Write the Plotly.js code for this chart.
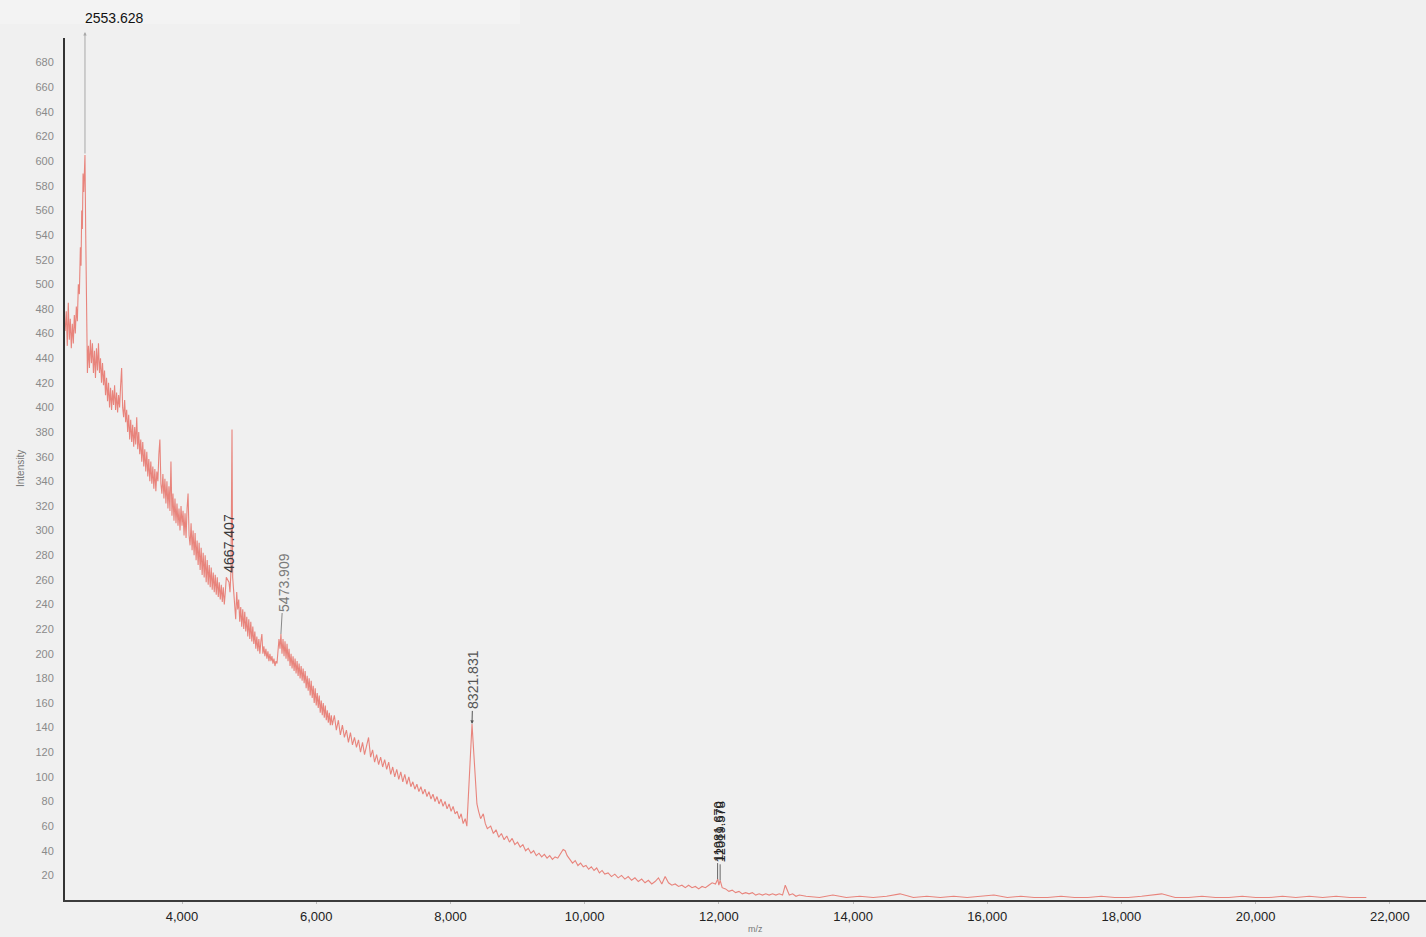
<!DOCTYPE html>
<html>
<head>
<meta charset="utf-8">
<script src="https://cdn.plot.ly/plotly-3.0.1.min.js"></script>
<style>
  html, body { margin: 0; padding: 0; background: #f0f0f0; }
  #chart { width: 1426px; height: 937px; }
</style>
</head>
<body>
<div id="chart"></div>
<script>
// m/z values
const mz = [
  2258, 2275, 2290, 2305, 2320, 2335, 2350, 2365, 2380, 2395,
  2410, 2425, 2440, 2455, 2470, 2485, 2495, 2505, 2515, 2525,
  2535, 2545, 2553.628, 2565, 2575, 2590, 2605, 2620, 2635, 2650,
  2665, 2680, 2695, 2710, 2725, 2740, 2755, 2770, 2785, 2800,
  2815, 2830, 2845, 2860, 2875, 2890, 2905, 2920, 2935, 2950,
  2965, 2980, 2995, 3010, 3025, 3040, 3055, 3070, 3085, 3100,
  3115, 3130, 3145, 3160, 3175, 3190, 3205, 3220, 3235, 3250,
  3265, 3280, 3295, 3310, 3325, 3340, 3355, 3370, 3385, 3400,
  3415, 3430, 3445, 3460, 3475, 3490, 3505, 3520, 3535, 3550,
  3565, 3580, 3595, 3610, 3625, 3640, 3655, 3670, 3685, 3700,
  3715, 3730, 3745, 3760, 3775, 3790, 3805, 3820, 3835, 3850,
  3865, 3880, 3895, 3910, 3925, 3940, 3955, 3970, 3985, 4000,
  4015, 4030, 4045, 4060, 4075, 4090, 4105, 4120, 4135, 4150,
  4165, 4180, 4195, 4210, 4225, 4240, 4255, 4270, 4285, 4300,
  4315, 4330, 4345, 4360, 4375, 4390, 4405, 4420, 4435, 4450,
  4465, 4480, 4495, 4510, 4525, 4540, 4555, 4570, 4585, 4600,
  4615, 4630, 4645, 4660, 4700, 4715, 4730, 4745, 4755, 4770,
  4785, 4800, 4815, 4830, 4845, 4860, 4875, 4890, 4905, 4920,
  4935, 4950, 4965, 4980, 4995, 5010, 5025, 5040, 5055, 5070,
  5085, 5100, 5115, 5130, 5145, 5160, 5175, 5190, 5205, 5220,
  5235, 5250, 5265, 5280, 5295, 5310, 5325, 5340, 5355, 5370,
  5385, 5400, 5415, 5430, 5445, 5460, 5473.909, 5490, 5505, 5520,
  5535, 5550, 5565, 5580, 5595, 5610, 5625, 5640, 5655, 5670,
  5685, 5700, 5715, 5730, 5745, 5760, 5775, 5790, 5805, 5820,
  5835, 5850, 5865, 5880, 5895, 5910, 5925, 5940, 5955, 5970,
  5985, 6000, 6015, 6030, 6045, 6060, 6075, 6090, 6105, 6120,
  6135, 6150, 6165, 6180, 6195, 6210, 6225, 6240, 6270, 6300,
  6330, 6360, 6390, 6420, 6450, 6480, 6510, 6540, 6570, 6600,
  6630, 6660, 6690, 6720, 6750, 6780, 6810, 6840, 6870, 6900,
  6930, 6960, 6990, 7020, 7050, 7080, 7110, 7140, 7170, 7200,
  7230, 7260, 7290, 7320, 7350, 7380, 7410, 7440, 7470, 7500,
  7530, 7560, 7590, 7620, 7650, 7680, 7710, 7740, 7770, 7800,
  7830, 7860, 7890, 7920, 7950, 7980, 8010, 8040, 8070, 8100,
  8130, 8160, 8190, 8220, 8245, 8270, 8295, 8321.831, 8345, 8370,
  8395, 8420, 8450, 8490, 8520, 8550, 8600, 8640, 8680, 8720,
  8760, 8800, 8840, 8880, 8920, 8960, 9000, 9040, 9080, 9120,
  9160, 9200, 9240, 9280, 9320, 9360, 9400, 9440, 9480, 9520,
  9560, 9600, 9640, 9680, 9710, 9740, 9780, 9820, 9860, 9900,
  9940, 9980, 10020, 10060, 10100, 10140, 10180, 10220, 10260, 10300,
  10350, 10400, 10450, 10500, 10550, 10600, 10650, 10700, 10750, 10800,
  10850, 10900, 10950, 11000, 11050, 11100, 11150, 11200, 11250, 11300,
  11350, 11400, 11450, 11500, 11550, 11600, 11650, 11700, 11750, 11800,
  11850, 11900, 11950, 11985, 12000, 12020, 12050, 12100, 12150, 12200,
  12250, 12300, 12350, 12400, 12450, 12500, 12550, 12600, 12650, 12700,
  12750, 12800, 12850, 12900, 12950, 12990, 13050, 13100, 13150, 13200,
  13300, 13500, 13700, 13900, 14100, 14300, 14500, 14700, 14900, 15100,
  15300, 15500, 15700, 15900, 16100, 16300, 16500, 16700, 16900, 17100,
  17300, 17500, 17700, 17900, 18100, 18300, 18600, 18800, 19000, 19200,
  19400, 19600, 19800, 20000, 20200, 20400, 20600, 20800, 21000, 21200,
  21400, 21650
];

// Intensity values
const intensity = [
  462, 478, 450, 485, 455, 472, 448, 468, 452, 475,
  460, 482, 470, 500, 492, 530, 515, 560, 545, 590,
  575, 600, 605, 540, 465, 428, 450, 432, 455, 436,
  452, 428, 446, 424, 448, 430, 452, 428, 440, 420,
  436, 418, 430, 410, 424, 405, 420, 400, 416, 398,
  414, 402, 418, 398, 412, 396, 410, 400, 418, 432,
  400, 392, 406, 388, 398, 380, 394, 374, 390, 372,
  386, 368, 384, 370, 392, 366, 380, 362, 374, 356,
  372, 352, 366, 348, 364, 344, 358, 340, 356, 338,
  352, 334, 350, 332, 348, 340, 362, 374, 338, 330,
  346, 326, 342, 322, 340, 318, 336, 316, 356, 312,
  330, 308, 326, 306, 322, 304, 318, 300, 320, 304,
  316, 296, 314, 294, 318, 330, 296, 288, 306, 284,
  300, 280, 298, 276, 292, 272, 290, 268, 286, 264,
  282, 262, 280, 258, 276, 256, 272, 254, 270, 252,
  266, 250, 264, 248, 262, 246, 258, 244, 256, 242,
  254, 240, 250, 262, 258, 250, 268, 382, 262, 248,
  240, 228, 250, 236, 244, 226, 238, 222, 236, 220,
  234, 218, 230, 214, 228, 212, 226, 210, 222, 208,
  218, 204, 214, 202, 212, 200, 210, 216, 200, 206,
  198, 204, 196, 202, 194, 200, 194, 198, 192, 196,
  190, 194, 192, 200, 212, 204, 216, 200, 212, 198,
  210, 196, 208, 194, 204, 190, 200, 188, 198, 186,
  196, 184, 194, 182, 192, 180, 190, 178, 188, 176,
  186, 172, 182, 170, 180, 166, 178, 164, 174, 160,
  172, 158, 168, 156, 166, 152, 162, 150, 160, 148,
  158, 146, 154, 144, 152, 142, 150, 142, 150, 138,
  146, 134, 142, 132, 138, 128, 136, 126, 132, 124,
  130, 120, 128, 118, 126, 132, 116, 122, 112, 118,
  110, 116, 108, 114, 106, 112, 102, 108, 100, 106,
  98, 104, 96, 102, 94, 100, 92, 96, 90, 94,
  88, 92, 86, 90, 84, 88, 82, 86, 80, 84,
  78, 82, 76, 80, 74, 78, 72, 76, 70, 72,
  66, 70, 62, 66, 60, 85, 120, 143, 122, 95,
  78, 72, 66, 70, 62, 58, 60, 54, 57, 51,
  54, 49, 52, 47, 50, 45, 47, 43, 45, 40,
  42, 38, 40, 36, 38, 35, 37, 34, 36, 33,
  35, 34, 38, 41, 40, 36, 33, 30, 32, 28,
  30, 27, 28, 25, 27, 24, 26, 22, 24, 21,
  22, 19, 21, 18, 20, 17, 19, 16, 18, 15,
  17, 14, 16, 13, 15, 18, 13, 19, 14, 12,
  13, 11, 12, 10, 12, 10, 11, 9, 11, 10,
  12, 14, 13, 17, 12, 16, 10, 9, 7, 8,
  6, 7, 5, 6, 5, 6, 4, 5, 4, 5,
  4, 5, 4, 5, 4, 12, 4, 5, 3, 4,
  3, 2, 4, 2, 3, 2, 3, 5, 2, 3,
  2, 3, 2, 3, 4, 2, 3, 2, 2, 3,
  2, 2, 3, 2, 2, 3, 5, 2, 2, 3,
  2, 2, 3, 2, 2, 3, 2, 3, 2, 3,
  2, 2
];

// Peak labels
const peakMz = [2553.628, 4667.407, 5473.909, 8321.831, 11981.670, 12019.578];
const peakLabels = ["2553.628", "4667.407", "5473.909", "8321.831", "11981.670", "12019.578"];
const peakTops = [605, 382, 216, 143, 17, 16];

// y tick values
const yTicks = [20, 40, 60, 80, 100, 120, 140, 160, 180, 200, 220, 240, 260, 280, 300, 320, 340,
  360, 380, 400, 420, 440, 460, 480, 500, 520, 540, 560, 580, 600, 620, 640, 660, 680];

const Y_MAX = 700;
const PLOT_H = 937 - 38 - 37;
function py(v) { return (1 - v / Y_MAX) * PLOT_H; } // pixels from top of plot area

const font = "Liberation Sans, Arial, sans-serif";

const trace = {
  x: mz, y: intensity, type: "scatter", mode: "lines",
  line: { color: "#e8847c", width: 1.1 },
  hoverinfo: "skip"
};

const annotations = [
  { xref: "x", yref: "paper", x: peakMz[0], y: 1 + 20 / PLOT_H, text: peakLabels[0],
    showarrow: false, xanchor: "left", yanchor: "middle", xshift: -2,
    font: { family: font, size: 14, color: "#111" } },
  { xref: "x", yref: "paper", x: peakMz[0], y: 1 + 6 / PLOT_H, text: "",
    showarrow: true, ax: 0, ay: py(peakTops[0]) + 6, arrowhead: 2, arrowsize: 0.7,
    arrowwidth: 1, arrowcolor: "#a8a8a8" },
  { xref: "x", yref: "y", x: peakMz[1], y: 290, text: peakLabels[1], textangle: -90,
    showarrow: false, xshift: 2, font: { family: font, size: 14, color: "#3a3a3a" } },
  { xref: "x", yref: "y", x: peakMz[2], y: peakTops[2], text: peakLabels[2], textangle: -90,
    showarrow: true, ax: 3, ay: -52, arrowhead: 0, arrowwidth: 1, arrowcolor: "#888",
    font: { family: font, size: 14, color: "#7a7a7a" } },
  { xref: "x", yref: "y", x: peakMz[3], y: peakTops[3], text: peakLabels[3], textangle: -90,
    showarrow: true, ax: 1, ay: -44, arrowhead: 2, arrowsize: 0.7, arrowwidth: 1, arrowcolor: "#555",
    font: { family: font, size: 14, color: "#555" } },
  { xref: "x", yref: "y", x: peakMz[4], y: peakTops[4], text: peakLabels[4], textangle: -90,
    showarrow: true, ax: 0, ay: -48, arrowhead: 0, arrowwidth: 1, arrowcolor: "#666",
    font: { family: font, size: 13, color: "#222" } },
  { xref: "x", yref: "y", x: peakMz[5], y: peakTops[5], text: peakLabels[5], textangle: -90,
    showarrow: true, ax: 0, ay: -48, arrowhead: 0, arrowwidth: 1, arrowcolor: "#666",
    font: { family: font, size: 13, color: "#222" } },
  { xref: "paper", yref: "paper", x: (20 - 65) / 1361, y: 0.5, text: "Intensity", textangle: -90,
    showarrow: false, xanchor: "center", yanchor: "middle",
    font: { family: font, size: 10, color: "#777" } },
  { xref: "paper", yref: "paper", x: (755 - 65) / 1361, y: -29 / PLOT_H, text: "m/z",
    showarrow: false, xanchor: "center", yanchor: "middle",
    font: { family: font, size: 9, color: "#777" } }
];

const layout = {
  width: 1426, height: 937,
  margin: { l: 65, r: 0, t: 38, b: 37, pad: 0 },
  paper_bgcolor: "#f0f0f0", plot_bgcolor: "#f0f0f0",
  showlegend: false, hovermode: false,
  xaxis: {
    range: [2256, 22539], showgrid: false, zeroline: false,
    showline: true, linecolor: "#3c3c3c", linewidth: 2,
    tick0: 0, dtick: 2000, tickformat: ",d",
    ticks: "outside", ticklen: 2, tickcolor: "#bbb", ticklabelstandoff: 1,
    tickfont: { family: font, size: 13, color: "#222" }
  },
  yaxis: {
    range: [0, Y_MAX], showgrid: false, zeroline: false,
    showline: true, linecolor: "#333", linewidth: 2,
    tickmode: "array", tickvals: yTicks, ticktext: yTicks.map(String),
    ticks: "", ticklabelstandoff: 7,
    tickfont: { family: font, size: 11, color: "#8a8a8a" }
  },
  shapes: [
    { type: "rect", xref: "paper", yref: "paper", x0: -65 / 1361, x1: (520 - 65) / 1361,
      y0: 1 + 14 / PLOT_H, y1: 1 + 38 / PLOT_H, fillcolor: "rgba(255,255,255,0.2)",
      line: { width: 0 }, layer: "below" }
  ],
  annotations: annotations
};

Plotly.newPlot("chart", [trace], layout, { displayModeBar: false, staticPlot: true });
</script>
</body>
</html>
